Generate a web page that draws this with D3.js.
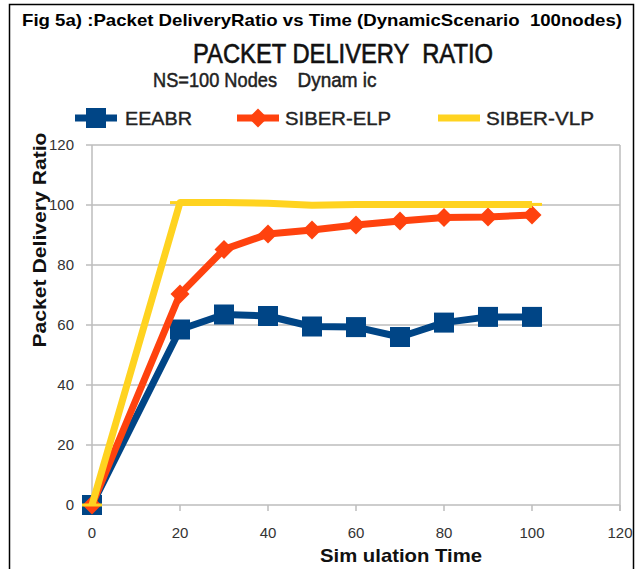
<!DOCTYPE html>
<html><head><meta charset="utf-8">
<script src="https://cdn.jsdelivr.net/npm/d3@7"></script>
<style>
html,body{margin:0;padding:0;background:#fff;}
svg text{white-space:pre;}
</style></head>
<body>
<script>
const times = [0,20,30,40,50,60,70,80,90,100];
const eeabr = [0, 58.5, 63.5, 63, 59.5, 59.3, 56, 60.8, 62.7, 62.7];
const siberELP = [0, 70.3, 85.2, 90.3, 91.7, 93.3, 94.7, 95.8, 96, 96.7];
const siberVLP = [0, 100.8, 100.8, 100.6, 99.9, 100.2, 100.2, 100.2, 100.2, 100.2];
const seriesNames = ["EEABR", "SIBER-ELP", "SIBER-VLP"];
const colors = ["#004586", "#ff420e", "#ffd320"];
const xTicks = [0,20,40,60,80,100,120];
const yTicks = [0,20,40,60,80,100,120];

const W = 636, H = 569;
const svg = d3.select("body").append("svg").attr("width", W).attr("height", H)
  .style("font-family", "Arial, 'Liberation Sans', sans-serif");
svg.append("rect").attr("width", W).attr("height", H).attr("fill", "#fff");
// frame
svg.append("path").attr("d", `M9.5,${H+5} V4.5 H633.5 V${H+5}`)
  .attr("fill","none").attr("stroke","#000").attr("stroke-width",1.5);

// titles
svg.append("text").attr("x", 322).attr("y", 26).attr("text-anchor","middle")
  .attr("font-weight","bold").attr("font-size",17).attr("fill","#000")
  .attr("textLength",600).attr("lengthAdjust","spacingAndGlyphs")
  .text("Fig 5a) :Packet DeliveryRatio vs Time (DynamicScenario  100nodes)");
svg.append("text").attr("x", 343).attr("y", 63).attr("text-anchor","middle")
  .attr("font-size",27).attr("fill","#111").attr("stroke","#111").attr("stroke-width",0.6)
  .attr("textLength",300).attr("lengthAdjust","spacingAndGlyphs")
  .text("PACKET DELIVERY  RATIO");
svg.append("text").attr("x", 215).attr("y", 87).attr("text-anchor","middle")
  .attr("font-size",21).attr("fill","#222").attr("stroke","#222").attr("stroke-width",0.5)
  .attr("textLength",124).attr("lengthAdjust","spacingAndGlyphs")
  .text("NS=100 Nodes");
svg.append("text").attr("x", 337).attr("y", 87).attr("text-anchor","middle")
  .attr("font-size",21).attr("fill","#222").attr("stroke","#222").attr("stroke-width",0.5)
  .attr("textLength",79).attr("lengthAdjust","spacingAndGlyphs")
  .text("Dynam ic");

// scales
const x = d3.scaleLinear().domain([0,120]).range([92,620]);
const y = d3.scaleLinear().domain([0,120]).range([505,145]);

// gridlines
svg.append("g").selectAll("line").data(yTicks).join("line")
  .attr("x1", 86).attr("x2", x(120)).attr("y1", d=>y(d)).attr("y2", d=>y(d))
  .attr("stroke","#bdbdbd").attr("stroke-width",1.5);
// left axis & right border
svg.append("line").attr("x1",x(0)).attr("x2",x(0)).attr("y1",y(120)).attr("y2",y(0)+6)
  .attr("stroke","#bdbdbd").attr("stroke-width",1.5);
svg.append("line").attr("x1",x(120)).attr("x2",x(120)).attr("y1",y(120)).attr("y2",y(0)+6)
  .attr("stroke","#bdbdbd").attr("stroke-width",1.5);
// x tick marks
svg.append("g").selectAll("line").data(xTicks).join("line")
  .attr("x1", d=>x(d)).attr("x2", d=>x(d)).attr("y1", y(0)).attr("y2", y(0)+6)
  .attr("stroke","#bdbdbd").attr("stroke-width",1.5);

// tick labels
svg.append("g").selectAll("text").data(yTicks).join("text")
  .attr("x", 74).attr("y", d=>y(d)).attr("dy","0.35em").attr("text-anchor","end")
  .attr("font-size",15).attr("fill","#333").text(d=>d);
svg.append("g").selectAll("text").data(xTicks).join("text")
  .attr("x", d=>x(d)).attr("y", 533).attr("dy","0.35em").attr("text-anchor","middle")
  .attr("font-size",15).attr("fill","#333").text(d=>d);

// axis titles
svg.append("text").attr("x", 320+81).attr("y", 562).attr("text-anchor","middle")
  .attr("font-weight","bold").attr("font-size",19).attr("fill","#111")
  .attr("textLength",162).attr("lengthAdjust","spacingAndGlyphs")
  .text("Sim ulation Time");
svg.append("text").attr("transform","translate(46,240) rotate(-90)").attr("text-anchor","middle")
  .attr("font-weight","bold").attr("font-size",18).attr("fill","#111")
  .attr("textLength",215).attr("lengthAdjust","spacingAndGlyphs")
  .text("Packet Delivery Ratio");

// series
const allSeries = [eeabr, siberELP, siberVLP];
const line = d3.line().x((d,i)=>x(times[i])).y(d=>y(d));
const markerFns = [
  (g, c) => g.append("rect").attr("x",-10).attr("y",-10).attr("width",20).attr("height",20).attr("fill",c),
  (g, c) => g.append("path").attr("d","M0,-9.5 L9.5,0 L0,9.5 L-9.5,0 Z").attr("fill",c),
  (g, c) => g.append("rect").attr("x",-10).attr("y",-1.5).attr("width",20).attr("height",3).attr("fill",c)
];
allSeries.forEach((vals, s) => {
  const g = svg.append("g");
  g.append("path").datum(vals).attr("d", line).attr("fill","none")
    .attr("stroke", colors[s]).attr("stroke-width",7).attr("stroke-linejoin","round");
  vals.forEach((v,i) => {
    const mg = g.append("g").attr("transform", `translate(${x(times[i])},${y(v)})`);
    markerFns[s](mg, colors[s]);
  });
});

// legend
const legendItems = [
  {x1:75, x2:117, tx:125, tw:67},
  {x1:237, x2:279, tx:285, tw:106},
  {x1:438, x2:480, tx:486, tw:108}
];
legendItems.forEach((L, s) => {
  const g = svg.append("g");
  g.append("line").attr("x1",L.x1).attr("x2",L.x2).attr("y1",118).attr("y2",118)
    .attr("stroke",colors[s]).attr("stroke-width",7);
  const mg = g.append("g").attr("transform",`translate(${(L.x1+L.x2)/2},118)`);
  if (s < 2) markerFns[s](mg, colors[s]);
  g.append("text").attr("x",L.tx).attr("y",118).attr("dy","0.36em")
    .attr("font-size",19).attr("fill","#222").attr("stroke","#222").attr("stroke-width",0.4)
    .attr("textLength",L.tw).attr("lengthAdjust","spacingAndGlyphs")
    .text(seriesNames[s]);
});
</script>
</body></html>
